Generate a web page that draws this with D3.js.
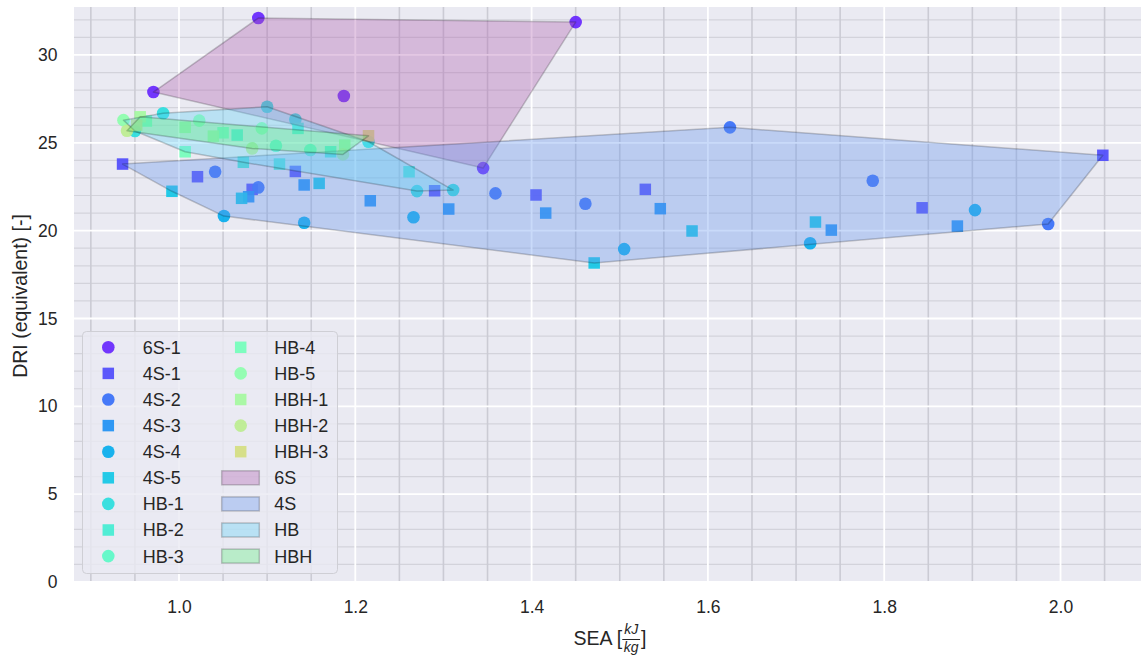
<!DOCTYPE html>
<html><head><meta charset="utf-8">
<script src="https://cdn.jsdelivr.net/npm/d3@7"></script>
<style>
body{margin:0;background:#fff}
svg{display:block}
text{font-family:"Liberation Sans",Arial,Helvetica,sans-serif;fill:#262626}
</style>
</head><body>
<svg id="chart" width="1141" height="660"></svg>
<script>
// ---------------- data ----------------
const seriesNames = ["6S-1","4S-1","4S-2","4S-3","4S-4","4S-5","HB-1","HB-2","HB-3","HB-4","HB-5","HBH-1","HBH-2","HBH-3"];
const seriesMarkers = ["circle","square","circle","square","circle","square","circle","square","circle","square","circle","square","circle","square"];
const seriesGroup = ["6S","4S","4S","4S","4S","4S","HB","HB","HB","HB","HB","HBH","HBH","HBH"];

const sea_6S_1 = [1.090, 1.450, 0.971, 1.187, 1.345];
const dri_6S_1 = [32.10, 31.87, 27.89, 27.66, 23.56];
const sea_4S_1 = [0.936, 1.021, 1.083, 1.132, 1.290, 1.405, 1.529, 1.843, 2.048];
const dri_4S_1 = [23.79, 23.07, 22.35, 23.37, 22.27, 22.03, 22.35, 21.30, 24.29];
const sea_4S_2 = [1.041, 1.090, 1.359, 1.461, 1.625, 1.787, 1.986];
const dri_4S_2 = [23.35, 22.46, 22.12, 21.53, 25.88, 22.84, 20.38];
const sea_4S_3 = [1.079, 1.142, 1.217, 1.306, 1.416, 1.546, 1.740, 1.883];
const dri_4S_3 = [21.93, 22.60, 21.70, 21.23, 21.00, 21.25, 20.03, 20.26];
const sea_4S_4 = [1.051, 1.142, 1.266, 1.505, 1.716, 1.903];
const dri_4S_4 = [20.83, 20.45, 20.76, 18.95, 19.28, 21.17];
const sea_4S_5 = [0.992, 1.071, 1.159, 1.471, 1.582, 1.722];
const dri_4S_5 = [22.24, 21.84, 22.69, 18.16, 19.98, 20.49];
const sea_HB_1 = [0.950, 0.982, 1.100, 1.132, 1.215, 1.270, 1.311];
const dri_HB_1 = [25.67, 26.68, 27.05, 26.33, 25.06, 22.25, 22.31];
const sea_HB_2 = [1.066, 1.073, 1.114, 1.135, 1.172, 1.261];
const dri_HB_2 = [25.44, 23.89, 23.79, 25.82, 24.49, 23.35];
const sea_HB_3 = [1.110, 1.149];
const dri_HB_3 = [24.83, 24.59];
const sea_HB_4 = [0.963, 1.007, 1.050];
const dri_HB_4 = [26.24, 24.49, 25.57];
const sea_HB_5 = [0.937, 1.023, 1.094];
const dri_HB_5 = [26.29, 26.26, 25.82];
const sea_HBH_1 = [0.956, 1.007, 1.039, 1.188];
const dri_HBH_1 = [26.48, 25.88, 25.38, 24.87];
const sea_HBH_2 = [0.941, 1.083, 1.186];
const dri_HBH_2 = [25.69, 24.68, 24.34];
const sea_HBH_3 = [0.952, 1.215];
const dri_HBH_3 = [26.01, 25.40];

const seaValues = [sea_6S_1, sea_4S_1, sea_4S_2, sea_4S_3, sea_4S_4, sea_4S_5, sea_HB_1, sea_HB_2, sea_HB_3, sea_HB_4, sea_HB_5, sea_HBH_1, sea_HBH_2, sea_HBH_3];
const driValues = [dri_6S_1, dri_4S_1, dri_4S_2, dri_4S_3, dri_4S_4, dri_4S_5, dri_HB_1, dri_HB_2, dri_HB_3, dri_HB_4, dri_HB_5, dri_HBH_1, dri_HBH_2, dri_HBH_3];

const groupNames = ["6S","4S","HB","HBH"];
const groupColors = ["#ae5eb0","#6495ed","#5ed0f5","#5ef07a"];

const xTicks = [1.0, 1.2, 1.4, 1.6, 1.8, 2.0];
const yTicks = [0, 5, 10, 15, 20, 25, 30];
const xDomain = [0.8809, 2.0913];
const yDomain = [0, 32.73];

// ---------------- layout ----------------
const L = 74, R = 1141, T = 7, B = 582;
const svg = d3.select("#chart");
const x = d3.scaleLinear().domain(xDomain).range([L, R]);
const y = d3.scaleLinear().domain(yDomain).range([B, T]);

function rainbow(t){
  const r = Math.min(1, Math.abs(2*t - 0.5)), g = Math.sin(Math.PI*t), b = Math.cos(Math.PI*t/2);
  return d3.rgb(r*255, g*255, b*255).formatHex();
}
const seriesColors = seriesNames.map((d,i) => rainbow((i+1)/21));

// background
svg.append("rect").attr("x",L).attr("y",T).attr("width",R-L).attr("height",B-T).attr("fill","#eaeaf2");

// minor grid
const near = (v, arr) => arr.some(a => Math.abs(a - v) < 1e-6);
const xMinor = d3.range(18, 42).map(k => +(k*0.05).toFixed(2)).filter(v => !near(v, xTicks));
const yMinor = d3.range(1, 33).filter(v => !near(v, yTicks));
const grid = svg.append("g");
grid.selectAll(".ym").data(yMinor).join("line")
  .attr("x1",L).attr("x2",R).attr("y1",d=>y(d)).attr("y2",d=>y(d))
  .attr("stroke","#d3d3db").attr("stroke-width",1.2);
grid.selectAll(".xm").data(xMinor).join("line")
  .attr("y1",T).attr("y2",B).attr("x1",d=>x(d)).attr("x2",d=>x(d))
  .attr("stroke","#cbcbd4").attr("stroke-width",1.6);
// major grid
grid.selectAll(".yM").data(yTicks).join("line")
  .attr("x1",L).attr("x2",R).attr("y1",d=>y(d)).attr("y2",d=>y(d))
  .attr("stroke","#ffffff").attr("stroke-width",1.8);
grid.selectAll(".xM").data(xTicks).join("line")
  .attr("y1",T).attr("y2",B).attr("x1",d=>x(d)).attr("x2",d=>x(d))
  .attr("stroke","#ffffff").attr("stroke-width",1.8);

// points
const MS = 11.5, MR = 6.3;
const pts = svg.append("g");
seriesNames.forEach((name, i) => {
  const data = seaValues[i].map((v, j) => [v, driValues[i][j]]);
  const g = pts.append("g").attr("fill", seriesColors[i]).attr("fill-opacity", 0.92);
  if (seriesMarkers[i] === "circle") {
    g.selectAll("circle").data(data).join("circle")
      .attr("cx", d => x(d[0])).attr("cy", d => y(d[1])).attr("r", MR);
  } else {
    g.selectAll("rect").data(data).join("rect")
      .attr("x", d => x(d[0]) - MS/2).attr("y", d => y(d[1]) - MS/2).attr("width", MS).attr("height", MS);
  }
});

// group hulls
const polys = svg.append("g");
groupNames.forEach((gname, gi) => {
  const P = [];
  seriesNames.forEach((n, i) => {
    if (seriesGroup[i] === gname) seaValues[i].forEach((v, j) => P.push([x(v), y(driValues[i][j])]));
  });
  const hull = d3.polygonHull(P);
  polys.append("path").attr("d", "M" + hull.map(p => p.join(",")).join("L") + "Z")
    .attr("fill", groupColors[gi]).attr("fill-opacity", 0.35)
    .attr("stroke", "#000").attr("stroke-opacity", 0.2).attr("stroke-width", 1.5)
    .attr("stroke-linejoin","round");
});

// axes tick labels
const xAxis = svg.append("g").attr("transform", `translate(0,${B})`)
  .call(d3.axisBottom(x).tickValues(xTicks).tickFormat(d3.format(".1f")).tickSize(0).tickPadding(18.5));
const yAxis = svg.append("g").attr("transform", `translate(${L},0)`)
  .call(d3.axisLeft(y).tickValues(yTicks).tickFormat(d3.format("d")).tickSize(0).tickPadding(16.5));
[xAxis, yAxis].forEach(a => {
  a.select(".domain").remove();
  a.selectAll("text").attr("font-size", 17.5).attr("fill", "#262626")
   .style("font-family", '"Liberation Sans",Arial,sans-serif');
});

// y label
svg.append("text").attr("transform", "translate(27,296) rotate(-90)")
  .attr("text-anchor","middle").attr("font-size",19.5).text("DRI (equivalent) [-]");

// x label with fraction
const xl = svg.append("g");
const t1 = xl.append("text").attr("font-size",19.5).attr("y",645).text("SEA [");
const num = xl.append("text").attr("font-size",14).attr("font-style","italic").attr("y",633.5).text("kJ");
const den = xl.append("text").attr("font-size",14).attr("font-style","italic").attr("y",651.5).text("kg");
const t2 = xl.append("text").attr("font-size",19.5).attr("y",645).text("]");
const w1 = t1.node().getComputedTextLength();
const wn = num.node().getComputedTextLength();
const wd = den.node().getComputedTextLength();
const wf = Math.max(wn, wd) + 3;
const w2 = t2.node().getComputedTextLength();
const total = w1 + wf + w2 + 1;
const x0 = 610 - total/2;
t1.attr("x", x0);
num.attr("x", x0 + w1 + (wf - wn)/2);
den.attr("x", x0 + w1 + (wf - wd)/2);
xl.append("line").attr("x1", x0 + w1).attr("x2", x0 + w1 + wf).attr("y1", 639.5).attr("y2", 639.5)
  .attr("stroke","#262626").attr("stroke-width",1);
t2.attr("x", x0 + w1 + wf + 1);

// legend
const lg = svg.append("g");
lg.append("rect").attr("x",82.5).attr("y",331.5).attr("width",255).attr("height",242).attr("rx",4)
  .attr("fill","#eaeaf2").attr("fill-opacity",0.8).attr("stroke","#cfcfd5").attr("stroke-width",1);
const legendItems = seriesNames.map((n,i)=>({type:"marker", label:n, i}))
  .concat(groupNames.map((n,gi)=>({type:"patch", label:n, gi})));
legendItems.forEach((it, k) => {
  const col = k < 9 ? 0 : 1, row = k % 9;
  const cy = 347.3 + row*26.1;
  const mx = col === 0 ? 108.3 : 240.7;
  const tx = col === 0 ? 142.7 : 274.3;
  if (it.type === "marker") {
    if (seriesMarkers[it.i] === "circle")
      lg.append("circle").attr("cx",mx).attr("cy",cy).attr("r",MR).attr("fill",seriesColors[it.i]).attr("fill-opacity",0.92);
    else
      lg.append("rect").attr("x",mx-MS/2).attr("y",cy-MS/2).attr("width",MS).attr("height",MS).attr("fill",seriesColors[it.i]).attr("fill-opacity",0.92);
  } else {
    lg.append("rect").attr("x",221.7).attr("y",cy-7).attr("width",37.6).attr("height",14)
      .attr("fill",groupColors[it.gi]).attr("fill-opacity",0.35)
      .attr("stroke","#000").attr("stroke-opacity",0.2).attr("stroke-width",1.5);
  }
  lg.append("text").attr("x",tx).attr("y",cy).attr("dy","0.36em").attr("font-size",18).text(it.label);
});
</script>
</body></html>
